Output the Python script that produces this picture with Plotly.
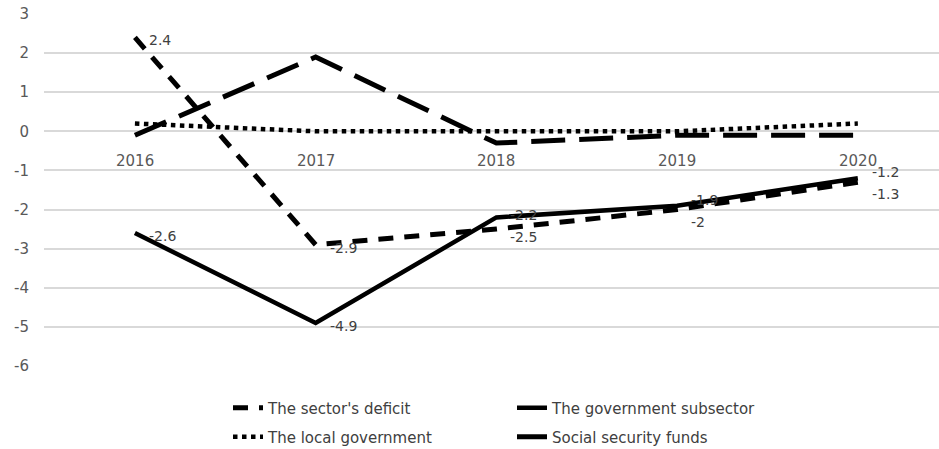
import plotly.graph_objects as go

years = ["2016", "2017", "2018", "2019", "2020"]
sector_deficit = [2.4, -2.9, -2.5, -2.0, -1.3]
gov_subsector = [-2.6, -4.9, -2.2, -1.9, -1.2]
local_gov = [0.2, 0.0, 0.0, 0.0, 0.2]
social_security = [-0.1, 1.9, -0.3, -0.1, -0.1]
y_ticks = [3, 2, 1, 0, -1, -2, -3, -4, -5, -6]

FONT = "'DejaVu Sans', sans-serif"
LABEL_GREY = "#404040"
AXIS_GREY = "#595959"
xs = list(range(len(years)))

fig = go.Figure()

fig.add_trace(go.Scatter(
    x=xs, y=sector_deficit, name="The sector's deficit", mode="lines",
    line=dict(color="black", width=5, dash="15px,11px"),
    legend="legend",
))
fig.add_trace(go.Scatter(
    x=xs, y=gov_subsector, name="The government subsector", mode="lines",
    line=dict(color="black", width=4.5),
    legend="legend",
))
fig.add_trace(go.Scatter(
    x=xs, y=local_gov, name="The local government",
    mode="lines", line=dict(color="black", width=4.5, dash="dot"),
    legend="legend2",
))
fig.add_trace(go.Scatter(
    x=xs, y=social_security, name="Social security funds",
    mode="lines", line=dict(color="black", width=5, dash="34px,14px"),
    legend="legend2",
))

# value labels to the right of each point; where the two labelled series
# nearly coincide, nudge the higher label up and the lower one down
PX_PER_UNIT = 352 / 9
MIN_GAP_PX = 22
for i in xs:
    a, b = sector_deficit[i], gov_subsector[i]
    gap = abs(a - b) * PX_PER_UNIT
    nudge = max(0.0, (MIN_GAP_PX - gap) / 2)
    for v, other in ((a, b), (b, a)):
        shift = nudge if v >= other else -nudge
        fig.add_annotation(
            x=i, y=v, text=f"{v:g}", showarrow=False,
            xanchor="left", yanchor="middle", xshift=12, yshift=shift - 3,
            font=dict(family=FONT, size=14, color=LABEL_GREY),
        )

# category labels sit just beneath the zero line
for i, yr in enumerate(years):
    fig.add_annotation(
        x=i, y=0, text=yr, showarrow=False, yanchor="top", yshift=-19,
        font=dict(family=FONT, size=15, color=AXIS_GREY),
    )

legend_common = dict(
    orientation="h", xref="container", yref="container",
    xanchor="left", yanchor="middle",
    entrywidth=239, entrywidthmode="pixels",
    font=dict(family=FONT, size=15, color=LABEL_GREY),
    bgcolor="rgba(0,0,0,0)", itemwidth=30, tracegroupgap=0,
)

fig.update_layout(
    width=939, height=449,
    margin=dict(l=44, r=0, t=14, b=83),
    paper_bgcolor="white", plot_bgcolor="white",
    font=dict(family=FONT, size=15, color=AXIS_GREY),
    showlegend=True,
    legend=dict(x=228 / 939, y=1 - 408 / 449, **legend_common),
    legend2=dict(x=228 / 939, y=1 - 437 / 449, **legend_common),
    xaxis=dict(
        range=[-0.503, 4.449], showgrid=False, showticklabels=False,
        zeroline=False, showline=False, fixedrange=True,
    ),
    yaxis=dict(
        range=[-6, 3], tickvals=y_ticks, ticktext=[str(v) for v in y_ticks],
        showgrid=True, gridcolor="#d9d9d9", gridwidth=2,
        zeroline=False, showline=False, ticks="",
        ticklabelstandoff=14,
        tickfont=dict(family=FONT, size=15, color=AXIS_GREY),
    ),
)

fig.write_html("out.html")
